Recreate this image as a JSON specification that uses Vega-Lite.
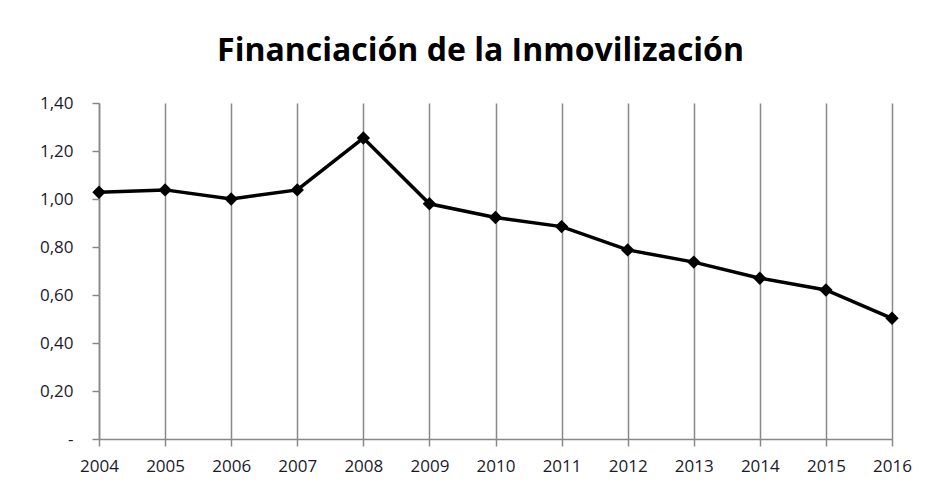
{
  "$schema": "https://vega.github.io/schema/vega-lite/v6.json",
  "autosize": "none",
  "width": 793,
  "height": 336,
  "padding": {"left": 99, "top": 103, "right": 33, "bottom": 53},
  "background": "white",
  "title": {
    "text": "Financiación de la Inmovilización",
    "font": "Open Sans",
    "fontSize": 32,
    "fontWeight": "bold",
    "color": "#000000",
    "anchor": "middle",
    "baseline": "alphabetic",
    "offset": 1,
    "dx": -15
  },
  "config": {
    "view": {"stroke": null},
    "axis": {
      "labelFont": "Open Sans",
      "labelFontSize": 17,
      "labelColor": "#1a1a2a",
      "domainColor": "#888888",
      "domainWidth": 1.5,
      "tickColor": "#888888",
      "tickWidth": 1.5,
      "tickSize": 7,
      "title": null
    }
  },
  "data": {
    "values": [
      {"year": "2004", "value": 1.028},
      {"year": "2005", "value": 1.038},
      {"year": "2006", "value": 1.0},
      {"year": "2007", "value": 1.038},
      {"year": "2008", "value": 1.254},
      {"year": "2009", "value": 0.98},
      {"year": "2010", "value": 0.923},
      {"year": "2011", "value": 0.885},
      {"year": "2012", "value": 0.788},
      {"year": "2013", "value": 0.737},
      {"year": "2014", "value": 0.67},
      {"year": "2015", "value": 0.621},
      {"year": "2016", "value": 0.503}
    ]
  },
  "encoding": {
    "x": {
      "field": "year",
      "type": "ordinal",
      "scale": {"type": "point", "padding": 0},
      "axis": {
        "labelAngle": 0,
        "labelPadding": 12,
        "grid": true,
        "gridColor": "#888888",
        "gridWidth": 1.5,
        "gridOpacity": 1
      }
    },
    "y": {
      "field": "value",
      "type": "quantitative",
      "scale": {"domain": [0, 1.4], "nice": false},
      "axis": {
        "values": [0, 0.2, 0.4, 0.6, 0.8, 1.0, 1.2, 1.4],
        "grid": false,
        "labelPadding": 19,
        "labelExpr": "datum.value == 0 ? '-' : replace(format(datum.value, '.2f'), '.', ',')"
      }
    }
  },
  "layer": [
    {"mark": {"type": "line", "color": "#000000", "strokeWidth": 3.5}},
    {"mark": {"type": "point", "shape": "diamond", "filled": true, "color": "#000000", "size": 180, "opacity": 1}}
  ]
}
